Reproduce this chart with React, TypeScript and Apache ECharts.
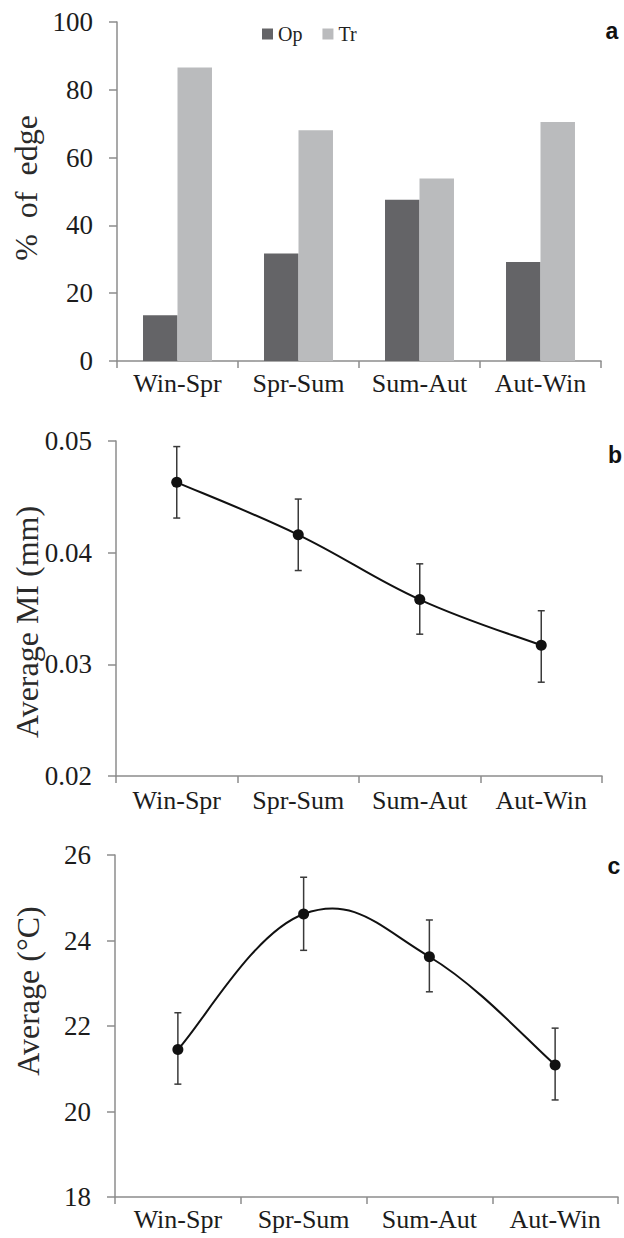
import React, { useEffect, useRef } from "react";
import * as echarts from "echarts";

const categories = ["Win-Spr", "Spr-Sum", "Sum-Aut", "Aut-Win"];
const opValues = [13.5, 31.7, 47.6, 29.2];
const trValues = [86.6, 68.1, 53.8, 70.5];
const miMean = [0.0463, 0.0416, 0.0358, 0.0317];
const miLow = [0.0431, 0.0384, 0.0327, 0.0284];
const miHigh = [0.0495, 0.0448, 0.039, 0.0348];
const tempMean = [21.45, 24.62, 23.62, 21.09];
const tempLow = [20.64, 23.77, 22.8, 20.27];
const tempHigh = [22.31, 25.48, 24.48, 21.95];

const SERIF = "Liberation Serif";
const AXIS_COLOR = "#8c8c8c";
const TEXT_COLOR = "#1c1c1c";

function xAxisFor(gridIndex: number, margin: number) {
  return {
    type: "category",
    gridIndex,
    data: categories,
    boundaryGap: true,
    axisLine: { show: true, lineStyle: { color: AXIS_COLOR, width: 1.5 } },
    axisTick: { show: true, length: 7, lineStyle: { color: AXIS_COLOR, width: 1.5 } },
    axisLabel: { fontFamily: SERIF, fontSize: 26, color: TEXT_COLOR, margin, interval: 0 },
    splitLine: { show: false },
  };
}

function yAxisFor(gridIndex: number, min: number, max: number, interval: number, fmt?: (v: number) => string) {
  const axisLabel: any = { fontFamily: SERIF, fontSize: 27, color: TEXT_COLOR, margin: 24 };
  if (fmt) axisLabel.formatter = fmt;
  return {
    type: "value",
    gridIndex,
    min,
    max,
    interval,
    axisLine: { show: true, lineStyle: { color: AXIS_COLOR, width: 1.5 } },
    axisTick: { show: true, length: 8, lineStyle: { color: AXIS_COLOR, width: 1.5 } },
    axisLabel,
    splitLine: { show: false },
  };
}

function errorSeries(xi: number, low: number[], high: number[]) {
  return {
    type: "custom",
    xAxisIndex: xi,
    yAxisIndex: xi,
    z: 3,
    data: categories.map((_, i) => [i, low[i], high[i]]),
    renderItem: (params: any, api: any) => {
      const lo = api.coord([api.value(0), api.value(1)]);
      const hi = api.coord([api.value(0), api.value(2)]);
      const cap = 3.5;
      const style = { stroke: "#3a3a3a", lineWidth: 1.5 };
      return {
        type: "group",
        children: [
          { type: "line", shape: { x1: lo[0], y1: lo[1], x2: hi[0], y2: hi[1] }, style },
          { type: "line", shape: { x1: hi[0] - cap, y1: hi[1], x2: hi[0] + cap, y2: hi[1] }, style },
          { type: "line", shape: { x1: lo[0] - cap, y1: lo[1], x2: lo[0] + cap, y2: lo[1] }, style },
        ],
      };
    },
  };
}

// Excel-like smoothed line (Catmull-Rom style cubic segments) through the library's coordinates
function smoothLineSeries(xi: number, values: number[], k: number) {
  return {
    type: "custom",
    xAxisIndex: xi,
    yAxisIndex: xi,
    z: 3,
    data: values.map((v, i) => [i, v]),
    renderItem: (params: any, api: any) => {
      const i = params.dataIndex;
      const n = values.length;
      if (i >= n - 1) return { type: "group", children: [] };
      const p = (j: number) => {
        const jj = Math.max(0, Math.min(n - 1, j));
        return api.coord([jj, values[jj]]);
      };
      const p0 = p(i - 1);
      const p1 = p(i);
      const p2 = p(i + 1);
      const p3 = p(i + 2);
      return {
        type: "bezierCurve",
        shape: {
          x1: p1[0],
          y1: p1[1],
          x2: p2[0],
          y2: p2[1],
          cpx1: p1[0] + (p2[0] - p0[0]) * k,
          cpy1: p1[1] + (p2[1] - p0[1]) * k,
          cpx2: p2[0] - (p3[0] - p1[0]) * k,
          cpy2: p2[1] - (p3[1] - p1[1]) * k,
        },
        style: { stroke: "#111", lineWidth: 2, fill: null },
      };
    },
  };
}

function markerSeries(xi: number, values: number[]) {
  return {
    type: "line",
    xAxisIndex: xi,
    yAxisIndex: xi,
    data: values,
    symbol: "circle",
    symbolSize: 11,
    z: 5,
    lineStyle: { opacity: 0, width: 0 },
    itemStyle: { color: "#111" },
  };
}

function rotatedName(text: string, x: number, y: number) {
  return {
    type: "text",
    x,
    y,
    rotation: Math.PI / 2,
    style: {
      text,
      fontFamily: SERIF,
      fontSize: 32,
      fill: "#2a2a2a",
      align: "center",
      verticalAlign: "middle",
      textAlign: "center",
      textVerticalAlign: "middle",
    },
  };
}

function panelLetter(text: string, x: number, y: number) {
  return {
    type: "text",
    x,
    y,
    style: {
      text,
      fontFamily: "Liberation Sans",
      fontWeight: "bold",
      fontSize: 23,
      fill: "#111",
      align: "center",
      verticalAlign: "middle",
      textAlign: "center",
      textVerticalAlign: "middle",
    },
  };
}

export default function App() {
  const ref = useRef<HTMLDivElement>(null);

  useEffect(() => {
    if (!ref.current) return;
    const chart = echarts.init(ref.current, null, { renderer: "svg" });
    const option: any = {
      animation: false,
      backgroundColor: "#ffffff",
      grid: [
        { left: 117, top: 22, width: 484, height: 339 },
        { left: 116, top: 441, width: 486, height: 335 },
        { left: 115, top: 855, width: 503, height: 342 },
      ],
      legend: {
        data: ["Op", "Tr"],
        left: 262,
        top: 24,
        icon: "rect",
        itemWidth: 11,
        itemHeight: 11,
        itemGap: 20,
        padding: 0,
        textStyle: { fontFamily: SERIF, fontSize: 20, color: "#222" },
      },
      xAxis: [xAxisFor(0, 9), xAxisFor(1, 11), xAxisFor(2, 9)],
      yAxis: [
        yAxisFor(0, 0, 100, 20),
        yAxisFor(1, 0.02, 0.05, 0.01, (v: number) => v.toFixed(2)),
        yAxisFor(2, 18, 26, 2),
      ],
      series: [
        {
          name: "Op",
          type: "bar",
          xAxisIndex: 0,
          yAxisIndex: 0,
          data: opValues,
          barGap: "0%",
          barCategoryGap: "43%",
          itemStyle: { color: "#646467" },
        },
        {
          name: "Tr",
          type: "bar",
          xAxisIndex: 0,
          yAxisIndex: 0,
          data: trValues,
          barGap: "0%",
          barCategoryGap: "43%",
          itemStyle: { color: "#babbbd" },
        },
        smoothLineSeries(1, miMean, 0.2),
        markerSeries(1, miMean),
        errorSeries(1, miLow, miHigh),
        smoothLineSeries(2, tempMean, 0.2),
        markerSeries(2, tempMean),
        errorSeries(2, tempLow, tempHigh),
      ],
      graphic: [
        rotatedName("%  of  edge", 26, 188),
        rotatedName("Average MI (mm)", 27, 622),
        rotatedName("Average (°C)", 28, 991),
        panelLetter("a", 612, 31),
        panelLetter("b", 615, 455),
        panelLetter("c", 614, 866),
      ],
    };
    chart.setOption(option);
    return () => chart.dispose();
  }, []);

  return (
    <div
      ref={ref}
      style={{ position: "absolute", left: 0, top: 0, width: 624, height: 1238, background: "#fff" }}
    />
  );
}
